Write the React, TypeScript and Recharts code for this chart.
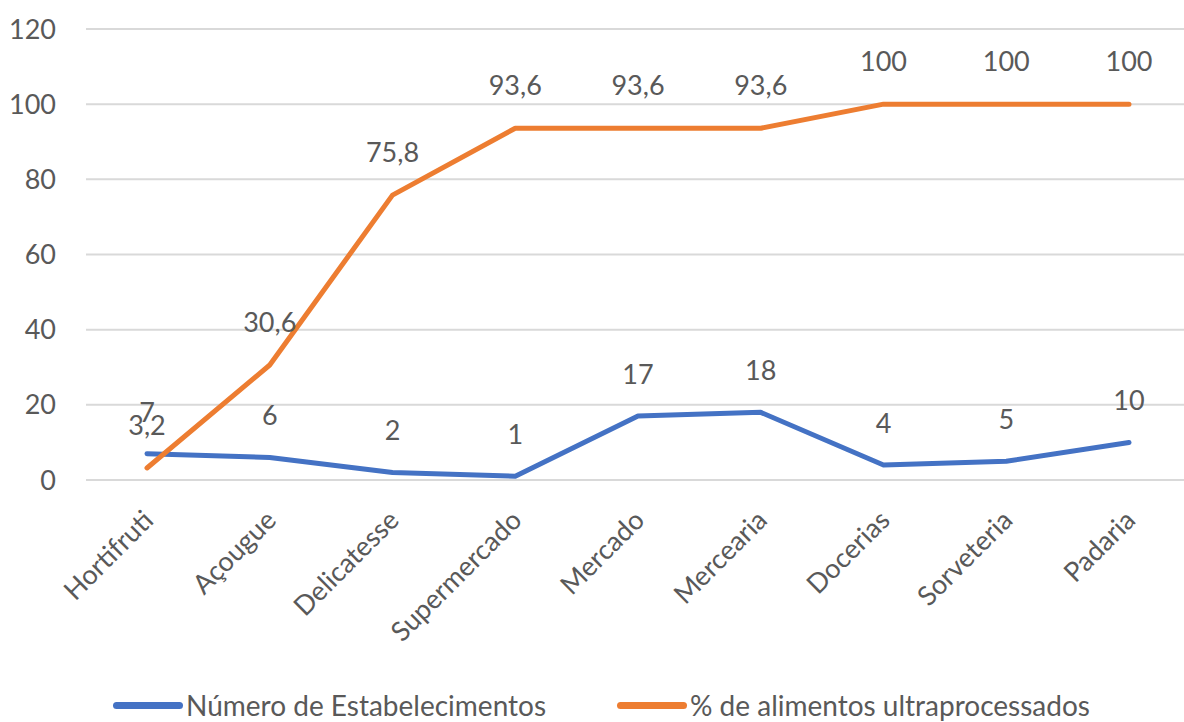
import React from "react";
import {
  LineChart,
  Line,
  XAxis,
  YAxis,
  CartesianGrid,
  LabelList,
  Legend,
} from "recharts";

const categories = [
  "Hortifruti",
  "Açougue",
  "Delicatesse",
  "Supermercado",
  "Mercado",
  "Mercearia",
  "Docerias",
  "Sorveteria",
  "Padaria",
];
const estabelecimentos = [7, 6, 2, 1, 17, 18, 4, 5, 10];
const ultraprocessados = [3.2, 30.6, 75.8, 93.6, 93.6, 93.6, 100, 100, 100];
const yTicks = [0, 20, 40, 60, 80, 100, 120];

const BLUE = "#4472C4";
const ORANGE = "#ED7D31";
const TEXT = "#595959";
const FONT = "Lato, 'Open Sans', sans-serif";

const data = categories.map((name, i) => ({
  name,
  estab: estabelecimentos[i],
  ultra: ultraprocessados[i],
}));

const fmt = (v: any) => String(v).replace(".", ",");

function CategoryTick(props: any) {
  const { x, y, payload } = props;
  const bx = x + 8;
  const by = y;
  return (
    <text
      x={bx}
      y={by}
      transform={`rotate(-45, ${bx}, ${by})`}
      textAnchor="end"
      fill={TEXT}
      fontSize={27}
      fontFamily={FONT}
    >
      {payload.value}
    </text>
  );
}

function LegendContent() {
  const items = [
    { label: "Número de Estabelecimentos", color: BLUE, left: 113 },
    { label: "% de alimentos ultraprocessados", color: ORANGE, left: 617 },
  ];
  return (
    <div style={{ position: "relative", height: 40, fontFamily: FONT }}>
      {items.map((it) => (
        <div
          key={it.label}
          style={{
            position: "absolute",
            left: it.left,
            top: 0,
            display: "flex",
            alignItems: "center",
            height: 40,
          }}
        >
          <div
            style={{
              width: 70,
              height: 7,
              borderRadius: 4,
              background: it.color,
              marginRight: 3,
            }}
          />
          <span style={{ fontSize: 28, color: TEXT, whiteSpace: "nowrap" }}>
            {it.label}
          </span>
        </div>
      ))}
    </div>
  );
}

export default function App() {
  return (
    <div
      style={{
        position: "absolute",
        left: 0,
        top: 0,
        width: 1184,
        height: 722,
        overflow: "hidden",
        background: "#fff",
        fontFamily: FONT,
      }}
    >
      <LineChart
        width={1190}
        height={722}
        data={data}
        margin={{ top: 29, right: 0, left: 0, bottom: 0 }}
      >
        <CartesianGrid vertical={false} stroke="#D9D9D9" strokeWidth={2} />
        <XAxis
          dataKey="name"
          axisLine={{ stroke: "#D9D9D9", strokeWidth: 2 }}
          tickLine={false}
          tickSize={0}
          tickMargin={42}
          height={242}
          interval={0}
          padding={{ left: 61, right: 61 }}
          tick={<CategoryTick />}
        />
        <YAxis
          width={86}
          domain={[0, 120]}
          ticks={yTicks}
          axisLine={false}
          tickLine={false}
          tickSize={0}
          tickMargin={30}
          tick={{ fill: TEXT, fontSize: 27, fontFamily: FONT }}
        />
        <Legend
          verticalAlign="middle"
          align="center"
          layout="horizontal"
          wrapperStyle={{ top: 685, left: 0, width: 1184 }}
          content={<LegendContent />}
        />
        <Line
          type="linear"
          dataKey="estab"
          name="Número de Estabelecimentos"
          stroke={BLUE}
          strokeWidth={5}
          strokeLinejoin="round"
          strokeLinecap="round"
          dot={false}
          isAnimationActive={false}
        >
          <LabelList
            dataKey="estab"
            position="top"
            offset={32}
            formatter={fmt}
            fill={TEXT}
            fontSize={27}
            fontFamily={FONT}
          />
        </Line>
        <Line
          type="linear"
          dataKey="ultra"
          name="% de alimentos ultraprocessados"
          stroke={ORANGE}
          strokeWidth={5}
          strokeLinejoin="round"
          strokeLinecap="round"
          dot={false}
          isAnimationActive={false}
        >
          <LabelList
            dataKey="ultra"
            position="top"
            offset={33}
            formatter={fmt}
            fill={TEXT}
            fontSize={27}
            fontFamily={FONT}
          />
        </Line>
      </LineChart>
    </div>
  );
}
